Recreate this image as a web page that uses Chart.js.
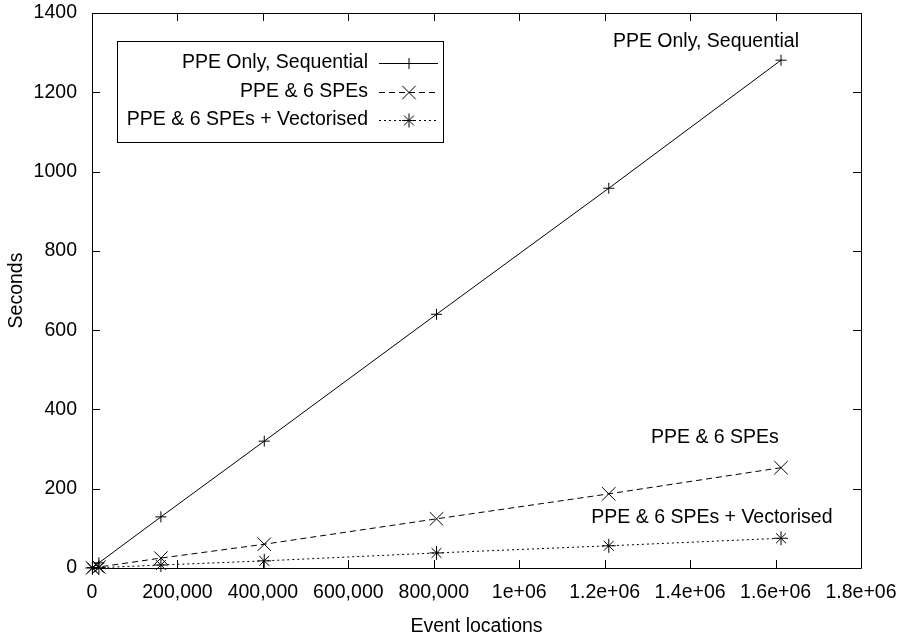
<!DOCTYPE html>
<html>
<head>
<meta charset="utf-8">
<script src="https://cdn.jsdelivr.net/npm/chart.js@4.4.0/dist/chart.umd.min.js"></script>
<style>
  body { margin: 0; background: #fff; }
  #wrap { width: 901px; height: 641px; }
</style>
</head>
<body>
<div id="wrap"><canvas id="timingChart" width="901" height="641"></canvas></div>
<script>
// event locations (x) and run time in seconds (y)
const eventLocations = [1000, 16128, 161280, 403200, 806400, 1209600, 1612800];
const ppeSequential = [0.8, 12.9, 129, 320, 640, 958, 1281];
const ppeSixSpes = [0.2, 2.5, 25, 60, 124, 187, 253];
const ppeSixSpesVec = [0.1, 0.8, 7.5, 18, 38, 56, 75];

const seriesNames = ['PPE Only, Sequential', 'PPE & 6 SPEs', 'PPE & 6 SPEs + Vectorised'];
const xTickLabels = ['0', '200,000', '400,000', '600,000', '800,000', '1e+06', '1.2e+06', '1.4e+06', '1.6e+06', '1.8e+06'];
const yTickLabels = ['0', '200', '400', '600', '800', '1000', '1200', '1400'];

// text labels placed next to the curves, in data units
const curveLabels = [
    { text: seriesNames[0], x: 1437000, y: 1327 },
    { text: seriesNames[1], x: 1458000, y: 328 },
    { text: seriesNames[2], x: 1451000, y: 126 }
];

const FONT = '19.5px "Liberation Sans", Arial, sans-serif';

const toPoints = (ys) => ys.map((y, i) => ({ x: eventLocations[i], y: y }));

// frame with gnuplot-style inward ticks on all four sides
const framePlugin = {
    id: 'frame',
    afterDraw(chart) {
        const { ctx, chartArea: a, scales } = chart;
        const tl = 8;
        ctx.save();
        ctx.strokeStyle = '#000';
        ctx.lineWidth = 1;
        ctx.beginPath();
        ctx.rect(a.left + 0.5, a.top + 0.5, a.right - a.left, a.bottom - a.top);
        scales.x.ticks.forEach(t => {
            const px = Math.round(scales.x.getPixelForValue(t.value)) + 0.5;
            ctx.moveTo(px, a.bottom);
            ctx.lineTo(px, a.bottom - tl);
            ctx.moveTo(px, a.top);
            ctx.lineTo(px, a.top + tl);
        });
        scales.y.ticks.forEach(t => {
            const py = Math.round(scales.y.getPixelForValue(t.value)) + 0.5;
            ctx.moveTo(a.left, py);
            ctx.lineTo(a.left + tl, py);
            ctx.moveTo(a.right, py);
            ctx.lineTo(a.right - tl, py);
        });
        ctx.stroke();
        ctx.restore();
    }
};

// boxed key in the top-left, text right aligned, sample line on the right
const keyPlugin = {
    id: 'key',
    afterDraw(chart) {
        const { ctx } = chart;
        const box = { left: 117, top: 41, right: 443, bottom: 142 };
        ctx.save();
        ctx.strokeStyle = '#000';
        ctx.lineWidth = 1;
        ctx.strokeRect(box.left + 0.5, box.top + 0.5, box.right - box.left, box.bottom - box.top);
        ctx.font = FONT;
        ctx.fillStyle = '#000';
        ctx.textAlign = 'right';
        ctx.textBaseline = 'middle';
        chart.data.datasets.forEach((ds, i) => {
            const y = 63 + i * 28.5;
            ctx.fillText(ds.label, 368, y);
            ctx.setLineDash(ds.borderDash || []);
            ctx.beginPath();
            ctx.moveTo(379, Math.round(y) + 0.5);
            ctx.lineTo(438, Math.round(y) + 0.5);
            ctx.stroke();
            ctx.setLineDash([]);
            Chart.helpers.drawPoint(ctx, {
                pointStyle: ds.pointStyle,
                radius: ds.pointRadius,
                rotation: 0,
                borderWidth: 1
            }, 409, Math.round(y) + 0.5);
        });
        ctx.restore();
    }
};

const curveLabelPlugin = {
    id: 'curveLabels',
    afterDraw(chart) {
        const { ctx, scales } = chart;
        ctx.save();
        ctx.font = FONT;
        ctx.fillStyle = '#000';
        ctx.textAlign = 'center';
        ctx.textBaseline = 'middle';
        curveLabels.forEach(l => {
            ctx.fillText(l.text, scales.x.getPixelForValue(l.x), scales.y.getPixelForValue(l.y));
        });
        ctx.restore();
    }
};

const lineStyle = {
    borderColor: '#000',
    backgroundColor: '#000',
    pointBorderColor: '#000',
    borderWidth: 1,
    pointBorderWidth: 1,
    fill: false,
    tension: 0,
    clip: false
};

Chart.defaults.font.family = '"Liberation Sans", Arial, sans-serif';
Chart.defaults.font.size = 19.5;
Chart.defaults.color = '#000';

new Chart(document.getElementById('timingChart').getContext('2d'), {
    type: 'line',
    data: {
        datasets: [
            { ...lineStyle, label: seriesNames[0], data: toPoints(ppeSequential), pointStyle: 'cross', pointRadius: 5.5 },
            { ...lineStyle, label: seriesNames[1], data: toPoints(ppeSixSpes), pointStyle: 'crossRot', pointRadius: 9.5, borderDash: [6, 4] },
            { ...lineStyle, label: seriesNames[2], data: toPoints(ppeSixSpesVec), pointStyle: 'star', pointRadius: 7, borderDash: [2, 3] }
        ]
    },
    options: {
        responsive: false,
        animation: false,
        layout: { padding: { top: 13, right: 40, bottom: 0, left: 0 } },
        plugins: {
            legend: { display: false },
            tooltip: { enabled: false }
        },
        scales: {
            x: {
                type: 'linear',
                min: 0,
                max: 1800000,
                grid: { display: false, drawTicks: false },
                border: { display: false },
                ticks: {
                    stepSize: 200000,
                    padding: 13,
                    maxRotation: 0,
                    autoSkip: false,
                    callback: (v, i) => xTickLabels[i]
                },
                title: { display: true, text: 'Event locations', padding: { top: 4, bottom: 3 } },
                afterFit: (scale) => {
                    scale.height = 73;
                    scale.paddingLeft = 0;
                    scale.paddingRight = 0;
                }
            },
            y: {
                type: 'linear',
                min: 0,
                max: 1400,
                grid: { display: false, drawTicks: false },
                border: { display: false },
                ticks: {
                    stepSize: 200,
                    padding: 15,
                    autoSkip: false,
                    callback: (v, i) => yTickLabels[i]
                },
                title: { display: true, text: 'Seconds', padding: { top: 5, bottom: 0 } },
                afterFit: (scale) => {
                    scale.width = 92;
                    scale.paddingTop = 0;
                    scale.paddingBottom = 0;
                }
            }
        }
    },
    plugins: [framePlugin, keyPlugin, curveLabelPlugin]
});
</script>
</body>
</html>
